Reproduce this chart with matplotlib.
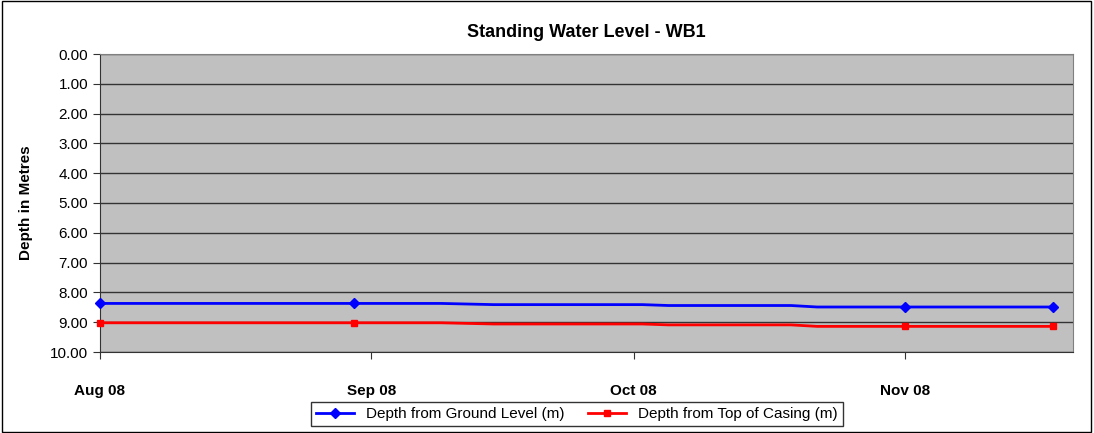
import matplotlib
matplotlib.use("Agg")
import matplotlib.pyplot as plt
import matplotlib.dates as mdates
from matplotlib.patches import Rectangle
import datetime as dt

plt.rcParams['font.family'] = ['Liberation Sans', 'DejaVu Sans']

dates = ["2008-08-01", "2008-08-30", "2008-09-09", "2008-09-15", "2008-10-02",
         "2008-10-05", "2008-10-19", "2008-10-22", "2008-11-01", "2008-11-18"]
ground = [8.37, 8.37, 8.37, 8.41, 8.41, 8.44, 8.44, 8.49, 8.49, 8.49]
casing = [9.02, 9.02, 9.02, 9.06, 9.06, 9.09, 9.09, 9.14, 9.14, 9.14]
marked = [0, 1, 8, 9]
month_ticks = ["2008-08-01", "2008-09-01", "2008-10-01", "2008-11-01"]
month_labels = ["Aug 08", "Sep 08", "Oct 08", "Nov 08"]
y_ticks = [0, 1, 2, 3, 4, 5, 6, 7, 8, 9, 10]

x = [dt.datetime.strptime(d, "%Y-%m-%d") for d in dates]
xt = [dt.datetime.strptime(d, "%Y-%m-%d") for d in month_ticks]

fig = plt.figure(figsize=(10.94, 4.33), dpi=100)
fig.patches.append(Rectangle((0.002, 0.003), 0.995, 0.994, transform=fig.transFigure,
                             fill=False, edgecolor='black', linewidth=1.0))
ax = fig.add_axes([100/1094, 1-352/433, 973/1094, 298/433])
ax.set_facecolor('#C0C0C0')

ax.plot(x, ground, color='#0000FF', lw=2, marker='D', ms=5, markevery=marked,
        label='Depth from Ground Level (m)', clip_on=False, zorder=3)
ax.plot(x, casing, color='#FF0000', lw=2, marker='s', ms=5, markevery=marked,
        label='Depth from Top of Casing (m)', clip_on=False, zorder=3)

ax.set_ylim(10, 0)
ax.set_yticks(y_ticks)
ax.set_yticklabels([f"{v:.2f}" for v in y_ticks], fontsize=11)
ax.yaxis.grid(True, color='#333333', lw=1)
ax.set_axisbelow(True)
ax.set_xlim(dt.datetime(2008, 8, 1), dt.datetime(2008, 11, 20, 6))
ax.set_xticks(xt)
ax.set_xticklabels(month_labels, fontsize=11, fontweight='bold')
ax.tick_params(axis='x', direction='out', length=5, pad=18, color='#333333')
ax.tick_params(axis='y', direction='out', length=5, color='#333333')

for s in ['top', 'right']:
    ax.spines[s].set_color('#808080')
for s in ['left', 'bottom']:
    ax.spines[s].set_color('#333333')

ax.set_ylabel('Depth in Metres', fontsize=11, fontweight='bold', labelpad=12)
ax.set_title('Standing Water Level - WB1', fontsize=13, fontweight='bold', pad=12)

leg = fig.legend(loc='center', bbox_to_anchor=(577/1094, 1-414/433), ncol=2,
                 fontsize=11, frameon=True, fancybox=False, edgecolor='black',
                 handlelength=2.5, borderpad=0.3, columnspacing=1.5)
leg.get_frame().set_linewidth(1.0)

fig.savefig('out.png', dpi=100)
